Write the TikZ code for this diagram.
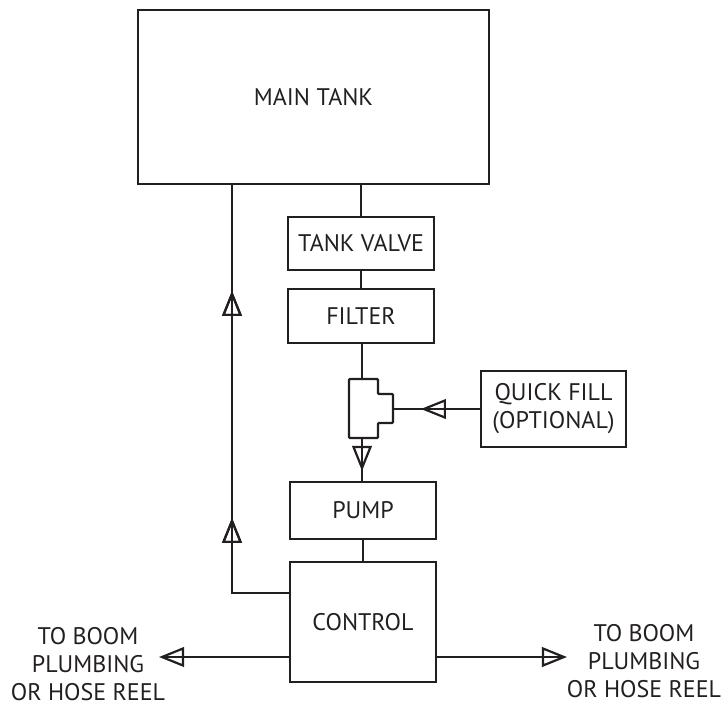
\documentclass[tikz,border=0pt]{standalone}
\usepackage{fontspec}
\setmainfont{PT Sans}
\usetikzlibrary{decorations.markings}
\definecolor{ink}{HTML}{231F20}
\begin{document}
\begin{tikzpicture}[x=1pt,y=-1pt,
  every node/.style={font=\fontsize{24}{28}\selectfont,text=ink},
  unit/.style={draw=ink,line width=2.3pt,inner sep=0pt,minimum width=146pt},
  pipe/.style={draw=ink,line width=2.3pt},
  flowtip/.style={postaction={decorate},decoration={markings,mark=at position #1 with {\draw[draw=ink,line width=2.2pt,line join=miter] (0,0) -- (-21,8.5) -- (-21,-8.5) -- cycle;}}},
  label/.style={align=center,inner sep=0pt}
]
\useasboundingbox (0,0) rectangle (727,710);
\node[unit,minimum width=351pt,minimum height=174pt] (tank) at (313.5,97) {MAIN TANK};
\node[unit,minimum height=53pt] (valve) at (361,243.5) {TANK VALVE};
\node[unit,minimum height=54pt] (filter) at (361,316) {FILTER};
\node[unit,minimum width=145pt,minimum height=76pt,align=center] (quick) at (553.5,409) {QUICK FILL\\(OPTIONAL)};
\node[unit,minimum height=57pt] (pump) at (363,510.5) {PUMP};
\node[unit,minimum height=120pt] (control) at (363,622) {CONTROL};
% tee fitting
\coordinate (teetop) at (362,379);
\coordinate (teebot) at (362,438);
\coordinate (teeside) at (393,409);
\draw[pipe,rounded corners=1pt] (349,379) -- (378,379) -- (378,394) -- (393,394) -- (393,423) -- (378,423) -- (378,438) -- (349,438) -- cycle;
% connectors
\draw[pipe] (valve.north |- tank.south) -- (valve.north);
\draw[pipe] (valve.south) -- (filter.south |- filter.north);
\draw[pipe] (teetop |- filter.south) -- (teetop);
\draw[pipe,flowtip=30pt] (teebot) -- (teebot |- pump.north);
\draw[pipe,flowtip=56pt] (quick.west) -- (teeside);
\draw[pipe] (pump.south) -- (control.north);
\coordinate (retcorner) at (232,593);
\draw[pipe,flowtip=129pt,flowtip=356pt] (control.west |- retcorner) -- (retcorner) -- (retcorner |- tank.south);
\coordinate (outL) at (162,657);
\coordinate (outR) at (564,657);
\draw[pipe,flowtip=1] (control.west |- outL) -- (outL);
\draw[pipe,flowtip=1] (control.east |- outR) -- (outR);
\node[label] (textL) at (88,664) {TO BOOM\\PLUMBING\\OR HOSE REEL};
\node[label] (textR) at (644,661) {TO BOOM\\PLUMBING\\OR HOSE REEL};
\end{tikzpicture}
\end{document}
